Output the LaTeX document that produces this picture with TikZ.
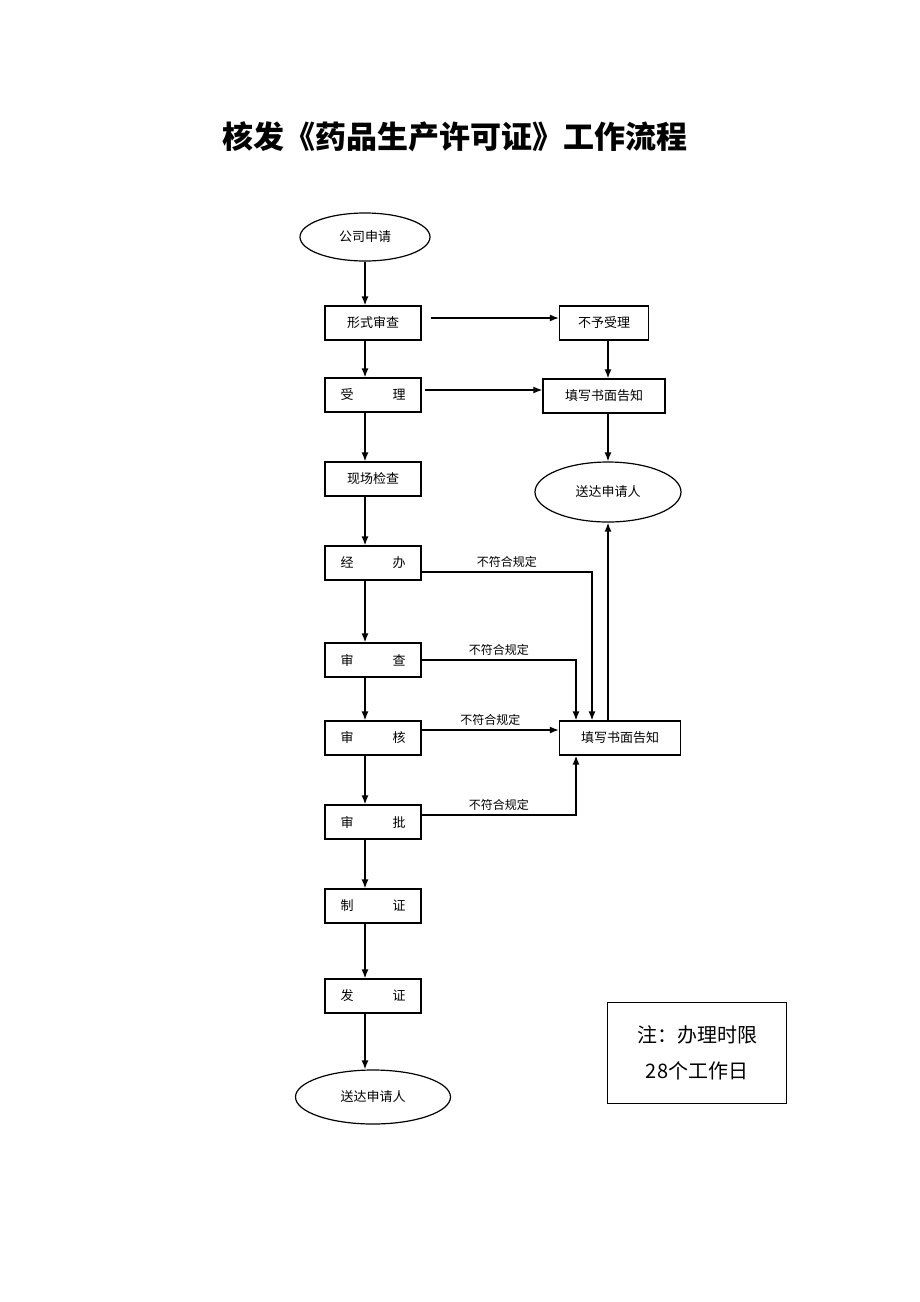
\documentclass[tikz,border=0pt]{standalone}
\usepackage{fontspec}
\newfontfamily\cjk{Noto Sans CJK SC}
\usetikzlibrary{shapes.geometric,arrows.meta}
\begin{document}
\begin{tikzpicture}[x=1pt,y=-1pt,
    font=\cjk\fontsize{13}{15}\selectfont,
    line width=1.3pt,
    box/.style={draw, line width=1.2pt, minimum width=96pt, minimum height=34pt, inner sep=0pt},
    oval/.style={draw, line width=1.2pt, ellipse, inner sep=0pt},
    arr/.style={line width=1.5pt, -{Latex[length=9pt,width=7pt]}},
    lbl/.style={font=\cjk\fontsize{12}{14}\selectfont}
  ]
  \useasboundingbox (0,0) rectangle (920,1302);
  \node[font=\cjk\bfseries\fontsize{31}{34}\selectfont] (title) at (455,137) {核发《药品生产许可证》工作流程};

  % main column
  \node[oval, minimum width=130pt, minimum height=48pt] (start) at (365,237) {公司申请};
  \foreach \n/\y/\t in {
      s1/323/形式审查,
      s2/395/受\hspace{3em}理,
      s3/479/现场检查,
      s4/563/经\hspace{3em}办,
      s5/660/审\hspace{3em}查,
      s6/738/审\hspace{3em}核,
      s7/822/审\hspace{3em}批,
      s8/906/制\hspace{3em}证,
      s9/996/发\hspace{3em}证
    }{
      \node[box] (\n) at (373,\y) {\t};
    }
  \node[oval, minimum width=155pt, minimum height=54pt] (end) at (373,1097) {送达申请人};

  \draw[arr] (start.south) -- (start.south |- s1.north);
  \foreach \a/\b in {s1/s2, s2/s3, s3/s4, s4/s5, s5/s6, s6/s7, s7/s8, s8/s9, s9/end}
    \draw[arr] (start.south |- \a.south) -- (start.south |- \b.north);

  % right column
  \node[oval, minimum width=146pt, minimum height=60pt] (send) at (608,492) {送达申请人};
  \node[box, minimum width=89pt] (reject) at (604,323) {不予受理};
  \node[box, minimum width=122pt] (notice1) at (604,396) {填写书面告知};
  \node[box, minimum width=121pt] (notice2) at (620,738) {填写书面告知};

  \draw[arr] (s1.east) ++(9,-5) coordinate (a1) -- (reject.west |- a1);
  \draw[arr] (s2.east) ++(3,-5) coordinate (a2) -- (notice1.west |- a2);
  \draw[arr] (reject.south -| send) -- (notice1.north -| send);
  \draw[arr] (notice1.south -| send) -- (send);
  \draw[arr] (notice2.north -| send) -- (send);

  \draw[arr] (s4.east) ++(0,9) coordinate (b4) -| ([xshift=-28pt]notice2.north)
    node[lbl, pos=0.25, above] {不符合规定};
  \draw[arr] (s5.east) -| ([xshift=-44pt]notice2.north)
    node[lbl, pos=0.25, above] {不符合规定};
  \draw[arr] (s6.east) ++(0,-8) coordinate (b6) -- (notice2.west |- b6)
    node[lbl, midway, above] {不符合规定};
  \draw[arr] (s7.east) ++(0,-7) coordinate (b7) -| ([xshift=-44pt]notice2.south)
    node[lbl, pos=0.25, above] {不符合规定};

  % note
  \node[draw, line width=1pt, minimum width=179pt, minimum height=101pt, align=center,
        font=\cjk\fontsize{20}{36}\selectfont] (note) at (697,1053)
    {注：办理时限\\28个工作日};
\end{tikzpicture}
\end{document}
